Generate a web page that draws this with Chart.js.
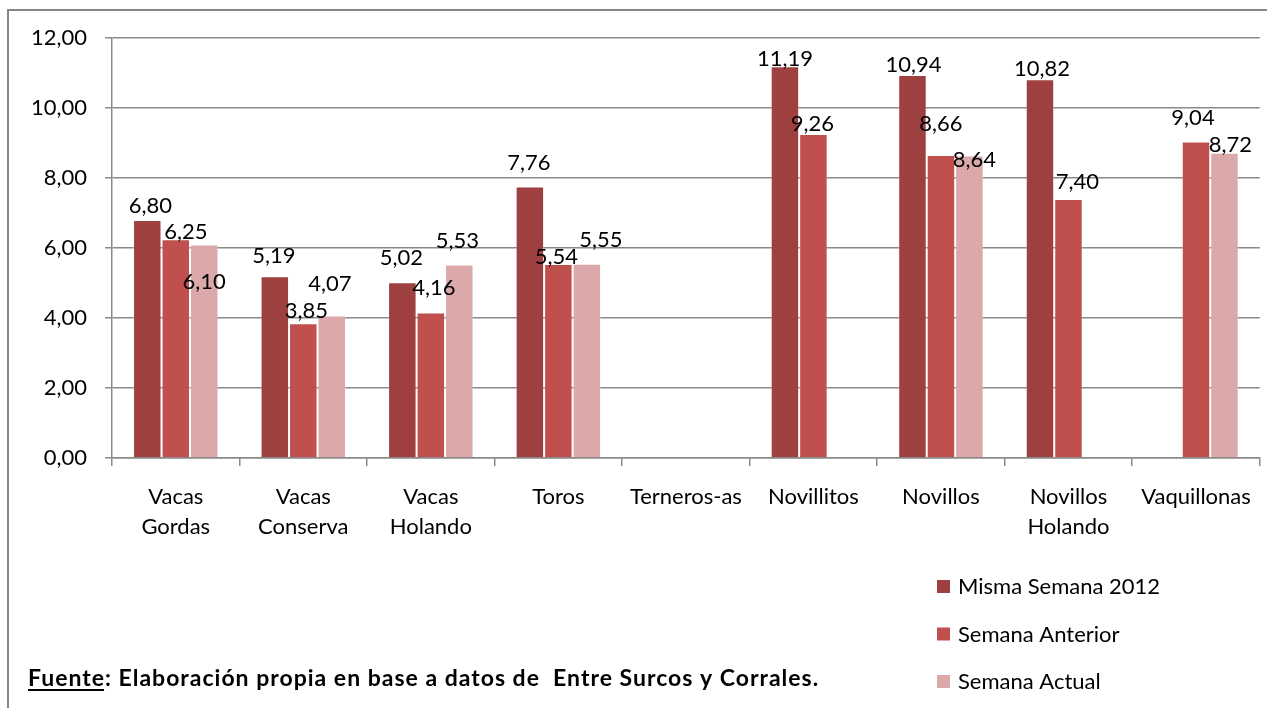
<!DOCTYPE html>
<html>
<head>
<meta charset="utf-8">
<script src="https://cdn.jsdelivr.net/npm/chart.js@4.4.1/dist/chart.umd.min.js"></script>
<style>
  body { margin: 0; background: #fff; }
  #wrap { width: 1267px; height: 708px; position: relative; }
</style>
</head>
<body>
<div id="wrap"><canvas id="priceChart"></canvas></div>
<script>
// Categories and series values
const categories = [
  ['Vacas', 'Gordas'], ['Vacas', 'Conserva'], ['Vacas', 'Holando'], 'Toros',
  'Terneros-as', 'Novillitos', 'Novillos', ['Novillos', 'Holando'], 'Vaquillonas'
];
const mismaSemana2012 = [6.80, 5.19, 5.02, 7.76, null, 11.19, 10.94, 10.82, null];
const semanaAnterior = [6.25, 3.85, 4.16, 5.54, null, 9.26, 8.66, 7.40, 9.04];
const semanaActual = [6.10, 4.07, 5.53, 5.55, null, null, 8.64, null, 8.72];
const yTicks = [0, 2, 4, 6, 8, 10, 12];

// Small pixel nudges for data labels (Excel moved some of them around)
const labelNudges = [
  [[3, 2], [-1, -4], [-1, -8], [-1, -7], null, [0, 9], [1, 6], [2, 6], null],
  [[10, 9], [3, 4], [3, -8], [-2, 9], null, [-1, 6], [0, -15], [9, -1], [-3, -8]],
  [[0, 53], [-2, -16], [-2, -8], [14, -8], null, null, [5, 20], null, [6, 8]]
];

const FONT = 'Lato, "Open Sans", sans-serif';
const gridGray = '#8a8a8a';

const fmt = (v) => v.toFixed(2).replace('.', ',');

// Outer frame, data labels, legend and source note
const decorPlugin = {
  id: 'decor',
  beforeDraw(chart) {
    const ctx = chart.ctx;
    ctx.save();
    ctx.strokeStyle = '#868686';
    ctx.lineWidth = 2;
    ctx.strokeRect(8, 10, 1300, 800);
    ctx.restore();
  },
  afterDatasetsDraw(chart) {
    const ctx = chart.ctx;
    ctx.save();
    ctx.font = '22px ' + FONT;
    ctx.fillStyle = '#000';
    ctx.textAlign = 'center';
    ctx.textBaseline = 'middle';
    chart.data.datasets.forEach((ds, i) => {
      const meta = chart.getDatasetMeta(i);
      meta.data.forEach((bar, j) => {
        const v = ds.data[j];
        if (v === null || v === undefined) return;
        const n = labelNudges[i][j] || [0, 0];
        ctx.fillText(fmt(v), bar.x + n[0], bar.y - 16 + n[1]);
      });
    });
    ctx.restore();
  },
  afterDraw(chart) {
    const ctx = chart.ctx;
    ctx.save();
    // legend
    ctx.font = '22px ' + FONT;
    ctx.textBaseline = 'middle';
    ctx.textAlign = 'left';
    chart.data.datasets.forEach((ds, i) => {
      const y = 587 + i * 47.5;
      ctx.fillStyle = ds.backgroundColor;
      ctx.fillRect(937, y - 7, 13, 13);
      ctx.fillStyle = '#000';
      ctx.fillText(ds.label, 958, y);
    });
    // source note
    ctx.font = 'bold 23px ' + FONT;
    ctx.letterSpacing = '1px';
    const lead = 'Fuente';
    const rest = ': Elaboración propia en base a datos de  Entre Surcos y Corrales.';
    ctx.fillText(lead, 28, 679);
    const w = ctx.measureText(lead).width;
    ctx.fillRect(28, 689, w - 1, 2);
    ctx.fillText(rest, 28 + w, 679);
    ctx.restore();
  }
};

const ctx = document.getElementById('priceChart').getContext('2d');
const priceChart = new Chart(ctx, {
  type: 'bar',
  data: {
    labels: categories,
    datasets: [
      { label: 'Misma Semana 2012', data: mismaSemana2012, backgroundColor: '#9e4040' },
      { label: 'Semana Anterior', data: semanaAnterior, backgroundColor: '#c0504d' },
      { label: 'Semana Actual', data: semanaActual, backgroundColor: '#dba9a9' }
    ]
  },
  options: {
    responsive: true,
    maintainAspectRatio: false,
    animation: false,
    layout: { padding: { left: 0, top: 38, right: 3, bottom: 0 } },
    datasets: {
      bar: {
        categoryPercentage: 0.67,
        barPercentage: 1.0,
        borderWidth: 1,
        borderColor: 'rgba(255,255,255,0.25)'
      }
    },
    plugins: {
      legend: { display: false },
      tooltip: { enabled: false }
    },
    scales: {
      x: {
        afterFit(scale) { scale.height = 250; },
        grid: {
          display: true,
          drawOnChartArea: false,
          drawTicks: true,
          tickLength: 8,
          color: gridGray,
          lineWidth: 1.5
        },
        border: { color: gridGray, width: 1.5 },
        ticks: {
          font: { family: FONT, size: 22, lineHeight: 1.364 },
          color: '#000',
          padding: 16,
          maxRotation: 0,
          autoSkip: false
        }
      },
      y: {
        min: 0,
        max: 12,
        afterFit(scale) { scale.width = 112; },
        afterBuildTicks(scale) { scale.ticks = yTicks.map((v) => ({ value: v })); },
        grid: { color: gridGray, lineWidth: 1.5, tickLength: 7 },
        border: { color: gridGray, width: 1.5 },
        ticks: {
          font: { family: FONT, size: 22 },
          color: '#000',
          padding: 18,
          callback: (v) => fmt(v)
        }
      }
    }
  },
  plugins: [decorPlugin]
});
</script>
</body>
</html>
